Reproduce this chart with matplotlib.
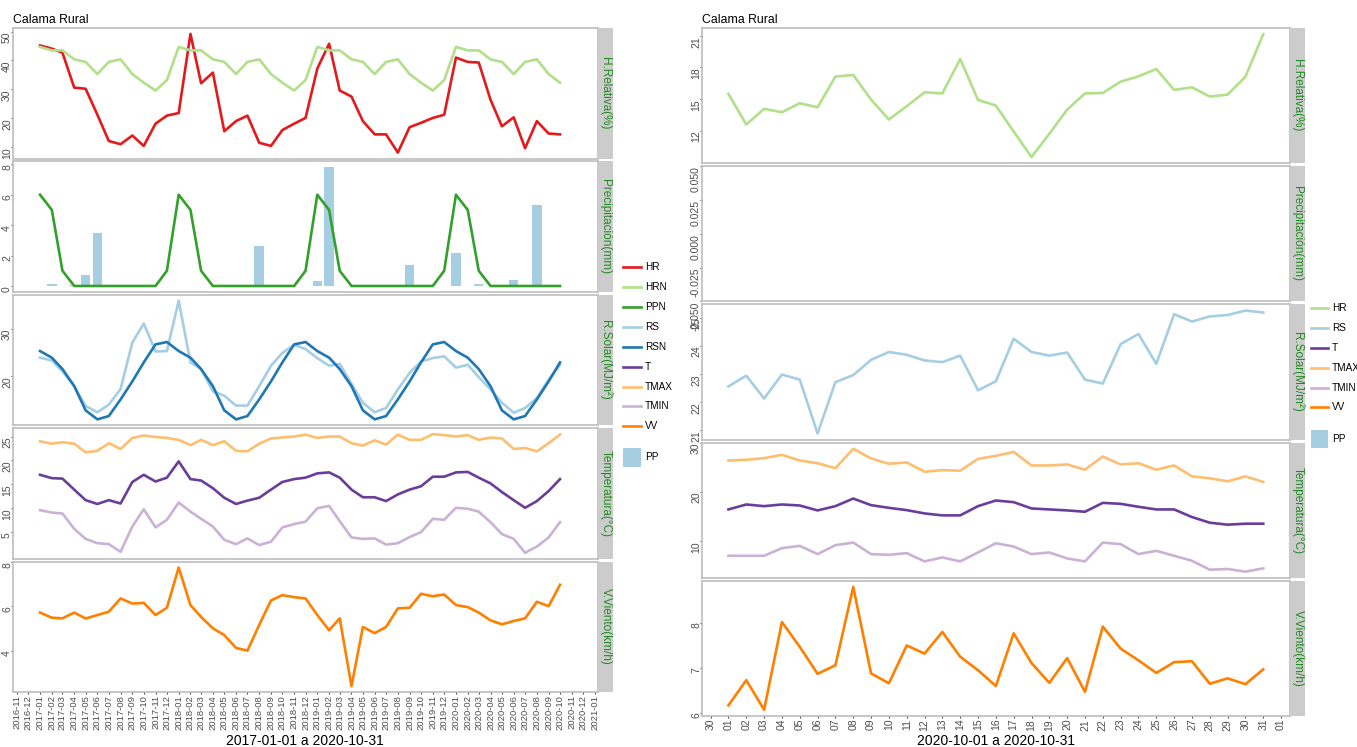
import numpy as np
import pandas as pd
import matplotlib
matplotlib.use('Agg')
import matplotlib.pyplot as plt
from matplotlib.lines import Line2D
from matplotlib.patches import Rectangle

plt.rcParams['font.family'] = ['Liberation Sans', 'DejaVu Sans']

# ---- datos mensuales 2017-01 .. 2020-10 ----
meses = pd.date_range('2017-01-01', '2020-10-01', freq='MS')
hr = [45.2, 44.1, 42.7, 30.6, 30.2, 21.2, 12.1, 11.0, 14.0, 10.4, 18.1, 20.9,
      21.8, 49.2, 32.1, 35.8, 15.5, 19.0, 20.9, 11.5, 10.4, 15.9, 18.1, 20.1,
      37.2, 45.8, 29.6, 27.5, 19.0, 14.4, 14.4, 8.1, 16.9, 18.4, 20.1, 21.2,
      41.0, 39.5, 39.3, 26.4, 17.2, 20.3, 9.6, 19.0, 14.7, 14.4]
hrn = [44.7, 43.5, 43.5, 40.4, 39.5, 35.3, 39.5, 40.4, 35.3, 32.3, 29.6, 33.2,
       44.7, 43.5, 43.5, 40.4, 39.5, 35.3, 39.5, 40.4, 35.3, 32.3, 29.6, 33.2,
       44.7, 43.5, 43.5, 40.4, 39.5, 35.3, 39.5, 40.4, 35.3, 32.3, 29.6, 33.2,
       44.7, 43.5, 43.5, 40.4, 39.5, 35.3, 39.5, 40.4, 35.3, 32.3]
pp = [0, 0.12, 0, 0.08, 0.7, 3.5, 0, 0, 0, 0, 0, 0,
      0, 0, 0, 0, 0, 0, 0, 2.6, 0, 0, 0, 0,
      0.3, 7.8, 0, 0, 0, 0, 0, 0.06, 1.4, 0, 0, 0,
      2.2, 0, 0.1, 0, 0, 0.4, 0, 5.3, 0, 0]
ppn = [6, 5, 1, 0, 0, 0, 0, 0, 0, 0, 0, 1,
       6, 5, 1, 0, 0, 0, 0, 0, 0, 0, 0, 1,
       6, 5, 1, 0, 0, 0, 0, 0, 0, 0, 0, 1,
       6, 5, 1, 0, 0, 0, 0, 0, 0, 0]
rs = [23.9, 23.3, 21.0, 17.9, 13.7, 12.4, 14.0, 17.3, 27.1, 31.1, 25.2, 25.3,
      35.9, 22.9, 21.5, 16.8, 15.9, 13.8, 13.8, 17.9, 22.2, 24.9, 26.6, 25.7,
      23.8, 22.2, 22.6, 18.4, 14.4, 12.4, 13.3, 17.2, 20.7, 23.1, 23.8, 24.2,
      21.8, 22.4, 19.8, 17.2, 14.4, 12.3, 13.3, 15.4, 19.3, 22.4]
rsn = [25.3, 23.9, 21.5, 17.9, 12.8, 10.9, 11.6, 15.1, 18.9, 22.9, 26.7, 27.2,
       25.3, 23.9, 21.5, 17.9, 12.8, 10.9, 11.6, 15.1, 18.9, 22.9, 26.7, 27.2,
       25.3, 23.9, 21.5, 17.9, 12.8, 10.9, 11.6, 15.1, 18.9, 22.9, 26.7, 27.2,
       25.3, 23.9, 21.5, 17.9, 12.8, 10.9, 11.6, 15.1, 18.9, 22.9]
t = [17.0, 16.3, 16.2, 13.9, 11.7, 10.9, 11.7, 11.0, 15.5, 17.0, 15.6, 16.4,
     19.8, 16.1, 15.8, 14.2, 12.2, 10.9, 11.6, 12.2, 13.9, 15.5, 16.1, 16.4,
     17.3, 17.5, 16.4, 13.9, 12.3, 12.3, 11.5, 12.9, 13.9, 14.6, 16.6, 16.6,
     17.5, 17.6, 16.4, 15.2, 13.4, 11.7, 10.1, 11.5, 13.6, 16.1]
tmax = [24.0, 23.5, 23.8, 23.5, 21.7, 22.0, 23.6, 22.4, 24.7, 25.2, 24.9, 24.7,
        24.3, 23.2, 24.3, 23.2, 24.0, 22.0, 21.9, 23.5, 24.6, 24.8, 25.0, 25.4,
        24.7, 25.0, 25.0, 23.6, 23.1, 24.2, 23.3, 25.4, 24.3, 24.3, 25.5, 25.3,
        25.0, 25.3, 24.3, 24.8, 24.6, 22.4, 22.6, 21.9, 23.6, 25.4]
tmin = [9.6, 9.1, 8.9, 5.7, 3.6, 2.7, 2.5, 0.9, 6.2, 9.8, 6.0, 7.6,
        11.2, 9.3, 7.8, 6.2, 3.4, 2.5, 3.7, 2.3, 3.0, 6.0, 6.7, 7.2,
        10.0, 10.5, 7.3, 3.9, 3.6, 3.7, 2.4, 2.7, 4.0, 5.0, 7.8, 7.6,
        10.1, 9.9, 9.3, 7.1, 4.6, 3.6, 0.7, 2.0, 3.9, 7.1]
vv = [5.72, 5.49, 5.46, 5.72, 5.45, 5.61, 5.76, 6.36, 6.13, 6.16, 5.61, 5.94,
      7.76, 6.06, 5.52, 5.01, 4.70, 4.12, 4.00, 5.16, 6.27, 6.51, 6.42, 6.36,
      5.61, 4.92, 5.46, 2.39, 5.07, 4.79, 5.07, 5.91, 5.94, 6.57, 6.46, 6.54,
      6.06, 5.97, 5.72, 5.37, 5.19, 5.34, 5.46, 6.21, 6.01, 6.98]

# ---- datos diarios octubre 2020 ----
dias = pd.date_range('2020-10-01', '2020-10-31', freq='D')
hr_d = [15.48, 12.57, 14.06, 13.74, 14.59, 14.21, 17.13, 17.28, 14.94, 13.05, 14.31,
        15.63, 15.53, 18.79, 14.91, 14.37, 11.91, 9.48, 11.69, 13.99, 15.53, 15.57,
        16.65, 17.15, 17.85, 15.86, 16.11, 15.23, 15.41, 17.12, 21.16]
pp_d = [0, 0, 0, 0, 0, 0, 0, 0, 0, 0, 0, 0, 0, 0, 0, 0,
        0, 0, 0, 0, 0, 0, 0, 0, 0, 0, 0, 0, 0, 0, 0]
rs_d = [22.56, 22.94, 22.13, 22.98, 22.80, 20.89, 22.71, 22.96, 23.50, 23.78, 23.68,
        23.48, 23.42, 23.65, 22.42, 22.74, 24.25, 23.78, 23.65, 23.76, 22.80, 22.66,
        24.06, 24.42, 23.36, 25.12, 24.86, 25.04, 25.09, 25.25, 25.18]
tmax_d = [26.36, 26.50, 26.84, 27.50, 26.36, 25.80, 24.80, 28.75, 26.77, 25.70, 25.96,
          24.07, 24.40, 24.28, 26.70, 27.30, 28.10, 25.35, 25.35, 25.56, 24.48, 27.17,
          25.56, 25.80, 24.48, 25.35, 23.13, 22.73, 22.12, 23.13, 21.99]
t_d = [16.40, 17.41, 17.07, 17.41, 17.20, 16.20, 17.07, 18.62, 17.27, 16.73, 16.26,
       15.59, 15.19, 15.19, 17.07, 18.22, 17.88, 16.60, 16.40, 16.20, 15.93, 17.74,
       17.54, 16.94, 16.40, 16.40, 14.85, 13.70, 13.30, 13.50, 13.50]
tmin_d = [6.97, 6.97, 6.97, 8.52, 8.99, 7.31, 9.13, 9.66, 7.31, 7.17, 7.51,
          5.83, 6.63, 5.83, 7.64, 9.53, 8.85, 7.31, 7.64, 6.43, 5.83, 9.66,
          9.33, 7.31, 7.98, 6.97, 5.96, 4.14, 4.28, 3.74, 4.41]
vv_d = [6.16, 6.72, 6.06, 8.01, 7.46, 6.86, 7.05, 8.79, 6.87, 6.65, 7.49,
        7.31, 7.79, 7.24, 6.94, 6.59, 7.76, 7.10, 6.66, 7.21, 6.46, 7.91,
        7.42, 7.16, 6.88, 7.12, 7.14, 6.64, 6.76, 6.63, 6.96]

C_HR, C_HRN, C_PPN = '#E31A1C', '#B2DF8A', '#33A02C'
C_RS, C_RSN, C_T = '#A6CEE3', '#1F78B4', '#6A3D9A'
C_TMAX, C_TMIN, C_VV = '#FDBF6F', '#CAB2D6', '#FF7F00'
VERDE = '#228B22'
GRIS = '#4D4D4D'
LW = 1.9

W, H = 1357, 747
fig = plt.figure(figsize=(W / 100, H / 100), dpi=100)


def caja(x0, y0, x1, y1):
    return [x0 / W, 1 - y1 / H, (x1 - x0) / W, (y1 - y0) / H]


def panel(x0, x1, y0, y1, xs, x1s, texto, yticks, ylabels=None):
    ax = fig.add_axes(caja(x0, y0, x1, y1))
    for s in ax.spines.values():
        s.set_color('#BDBDBD')
        s.set_linewidth(1.2)
    ax.set_yticks(yticks)
    if ylabels is not None:
        ax.set_yticklabels(ylabels)
    ax.tick_params(axis='y', length=1.5, color=GRIS, labelsize=7.5,
                   labelcolor=GRIS, pad=-1.0)
    sax = fig.add_axes(caja(xs, y0, x1s, y1))
    sax.set_facecolor('#CCCCCC')
    sax.set_xticks([])
    sax.set_yticks([])
    for s in sax.spines.values():
        s.set_visible(False)
    sax.text(0.5, 0.5, texto, rotation=-90, ha='center', va='center',
             color=VERDE, fontsize=8.5, transform=sax.transAxes)
    return ax


def fin_y(ax):
    plt.setp(ax.get_yticklabels(), rotation=90, va='top', ha='right')


titulos = ['H.Relativa(%)', 'Precipitación(mm)', 'R.Solar(MJ/m²)',
           'Temperatura(°C)', 'V.Viento(km/h)']

# ================= izquierda =================
LX0, LX1 = 12.7, 598
lim_izq = (pd.Timestamp('2016-10-21'), pd.Timestamp('2021-01-09'))
ticks_izq = pd.date_range('2016-11-01', '2021-01-01', freq='MS')
yt_izq = [[10, 20, 30, 40, 50], [0, 2, 4, 6, 8], [20, 30], [5, 10, 15, 20, 25], [4, 6, 8]]
axs = []
for i in range(5):
    top = 28 + i * 133.4
    ax = panel(LX0, LX1, top, top + 130.5, LX1, LX1 + 15, titulos[i], yt_izq[i])
    axs.append(ax)

axs[0].plot(meses, hr, color=C_HR, lw=LW)
axs[0].plot(meses, hrn, color=C_HRN, lw=LW)
axs[1].use_sticky_edges = False
axs[1].bar(meses, pp, width=25, color=C_RS)
axs[1].plot(meses, ppn, color=C_PPN, lw=LW)
axs[2].plot(meses, rs, color=C_RS, lw=LW)
axs[2].plot(meses, rsn, color=C_RSN, lw=LW)
axs[3].plot(meses, t, color=C_T, lw=LW)
axs[3].plot(meses, tmax, color=C_TMAX, lw=LW)
axs[3].plot(meses, tmin, color=C_TMIN, lw=LW)
axs[4].plot(meses, vv, color=C_VV, lw=LW)
for i, ax in enumerate(axs):
    ax.set_xlim(*lim_izq)
    ax.set_yticks(yt_izq[i])
    if i < 4:
        ax.set_xticks([])
    else:
        ax.set_xticks(ticks_izq)
        ax.set_xticklabels(ticks_izq.strftime('%Y-%m'))
        ax.tick_params(axis='x', length=1.5, color=GRIS, labelsize=6.8,
                       labelcolor=GRIS, labelrotation=90, pad=0.5)
    fin_y(ax)

fig.text(LX0 / W, 1 - 20 / H, 'Calama Rural', fontsize=8.8, va='center', ha='left')
fig.text((LX0 + LX1) / 2 / W, 1 - 741 / H, '2017-01-01 a 2020-10-31',
         fontsize=10, ha='center', va='center')

# ================= derecha =================
RX0, RX1 = 701.7, 1290
lim_der = (pd.Timestamp('2020-09-29 12:00'), pd.Timestamp('2020-11-01 12:00'))
ticks_der = pd.date_range('2020-09-30', '2020-11-01', freq='D')
yt_der = [[12, 15, 18, 21], [-0.05, -0.025, 0, 0.025, 0.05], [21, 22, 23, 24, 25],
          [10, 20, 30], [6, 7, 8]]
axd = []
for i in range(5):
    top = 28 + i * 138.2
    lab = ['-0.050', '-0.025', '0.000', '0.025', '0.050'] if i == 1 else None
    ax = panel(RX0, RX1, top, top + 135.2, RX1, RX1 + 15, titulos[i], yt_der[i], lab)
    axd.append(ax)

axd[0].plot(dias, hr_d, color=C_HRN, lw=LW)
axd[1].bar(dias, pp_d, width=0.8, color=C_RS)
axd[1].set_ylim(-0.05, 0.05)
axd[2].plot(dias, rs_d, color=C_RS, lw=LW)
axd[3].plot(dias, t_d, color=C_T, lw=LW)
axd[3].plot(dias, tmax_d, color=C_TMAX, lw=LW)
axd[3].plot(dias, tmin_d, color=C_TMIN, lw=LW)
axd[4].plot(dias, vv_d, color=C_VV, lw=LW)
for i, ax in enumerate(axd):
    ax.set_xlim(*lim_der)
    if i < 4:
        ax.set_xticks([])
    else:
        ax.set_xticks(ticks_der)
        ax.set_xticklabels(ticks_der.strftime('%d'))
        ax.tick_params(axis='x', length=1.5, color=GRIS, labelsize=7.5,
                       labelcolor=GRIS, labelrotation=90, pad=0.5)
    fin_y(ax)

fig.text(RX0 / W, 1 - 20 / H, 'Calama Rural', fontsize=8.8, va='center', ha='left')
fig.text((RX0 + RX1) / 2 / W, 1 - 741 / H, '2020-10-01 a 2020-10-31',
         fontsize=10, ha='center', va='center')


# ================= leyendas =================
def leyenda(kx0, kx1, tx, filas, pp_y0, pp_y1):
    for nombre, color, y in filas:
        fig.add_artist(Line2D([kx0 / W, kx1 / W], [1 - y / H, 1 - y / H],
                              color=color, lw=LW))
        fig.text(tx / W, 1 - y / H, nombre, fontsize=7.2, va='center')
    fig.add_artist(Rectangle((kx0 / W, 1 - pp_y1 / H), (kx1 - kx0) / W,
                             (pp_y1 - pp_y0) / H, color=C_RS, lw=0))
    fig.text(tx / W, 1 - (pp_y0 + pp_y1) / 2 / H, 'PP', fontsize=7.2, va='center')


leyenda(623, 641, 645,
        [('HR', C_HR, 267), ('HRN', C_HRN, 287), ('PPN', C_PPN, 307),
         ('RS', C_RS, 327), ('RSN', C_RSN, 347), ('T', C_T, 367),
         ('TMAX', C_TMAX, 387), ('TMIN', C_TMIN, 406), ('VV', C_VV, 426)],
        448, 467)
leyenda(1311, 1328, 1332,
        [('HR', C_HRN, 308), ('RS', C_RS, 328), ('T', C_T, 348),
         ('TMAX', C_TMAX, 368), ('TMIN', C_TMIN, 388), ('VV', C_VV, 407)],
        430, 448)

fig.savefig('out.png', dpi=100)
